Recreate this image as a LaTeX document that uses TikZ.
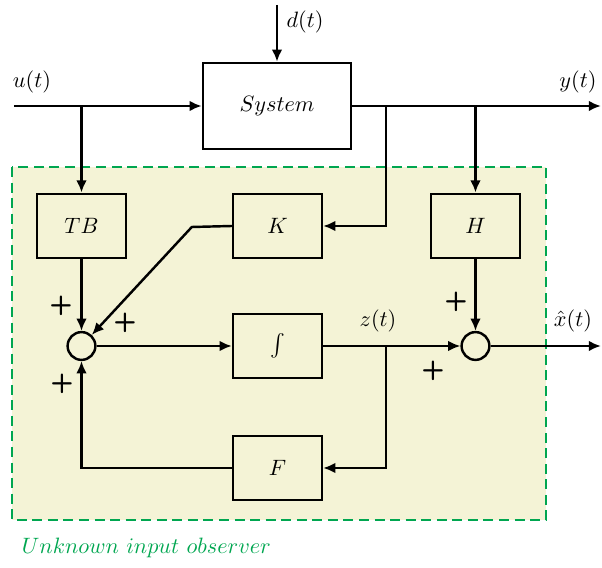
\documentclass[tikz,border=0pt]{standalone}
\usetikzlibrary{arrows.meta,positioning}
\definecolor{obsfill}{RGB}{244,243,214}
\definecolor{obsgreen}{RGB}{0,166,80}

\begin{document}
\begin{tikzpicture}[x=0.45pt, y=-0.45pt,
    block/.style={rectangle, draw, line width=1.1pt, minimum width=40pt, minimum height=29pt, inner sep=0pt},
    summer/.style={circle, draw, line width=1.1pt, minimum size=12.5pt, inner sep=0pt},
    arrow/.style={-{Latex[length=5.5pt,width=4.8pt]}, line width=1.1pt},
    observer/.style={draw=obsgreen, fill=obsfill, line width=1.1pt, dash pattern=on 4.5pt off 2.5pt},
    sign/.style={font=\sffamily\bfseries\large, inner sep=0pt}
  ]
    \useasboundingbox (0,0) rectangle (602,568);
    % observer area
    \draw[observer] (12,167) rectangle (546,520);
    \node[anchor=west, text=obsgreen] (obslabel) at (14,548) {$Unknown\ input\ observer$};

    \node[block, minimum width=66.6pt, minimum height=38.7pt] (sys) at (277,106) {$System$};
    \node[block] (tb) at (81.5,226) {$TB$};
    \node[block] (k) at (277.5,226) {$K$};
    \node[block] (h) at (475.5,226) {$H$};
    \node[block] (int) at (277.5,346) {$\int$};
    \node[block] (f) at (277.5,468) {$F$};
    \node[summer] (s1) at (81.5,346) {};
    \node[summer] (s2) at (475.5,346) {};

    \coordinate (uin) at (14,106);
    \coordinate (yout) at (601,106);
    \coordinate (dtop) at (277,5);
    \coordinate (kb) at (386,106);
    \coordinate (zb) at (386,346);
    \coordinate (xout) at (601,346);

    \draw[arrow] (dtop) -- (sys);
    \draw[arrow] (uin) -- (sys);
    \draw[arrow] (sys) -- (yout);
    \draw[arrow] (uin -| tb) -- (tb);
    \draw[arrow] (kb) |- (k);
    \draw[arrow] (yout -| h) -- (h);
    \draw[arrow] (k.west) -- ++(-40,1) -- (s1);
    \draw[arrow] (tb) -- (s1);
    \draw[arrow] (s1) -- (int);
    \draw[arrow] (int) -- (s2);
    \draw[arrow] (h) -- (s2);
    \draw[arrow] (s2) -- (xout);
    \draw[arrow] (zb) |- (f);
    \draw[arrow] (f) -| (s1);

    % signals
    \node (ulab) at (32,82) {$u(t)$};
    \node (ylab) at (578,82) {$y(t)$};
    \node (dlab) at (305,22) {$d(t)$};
    \node (zlab) at (378,321) {$z(t)$};
    \node (xlab) at (573,321) {$\hat{x}(t)$};

    % signs
    \node[sign] at (61,306) {+};
    \node[sign] at (125,323) {+};
    \node[sign] at (62,384) {+};
    \node[sign] at (456,302) {+};
    \node[sign] at (433,371) {+};
  \end{tikzpicture}
\end{document}
